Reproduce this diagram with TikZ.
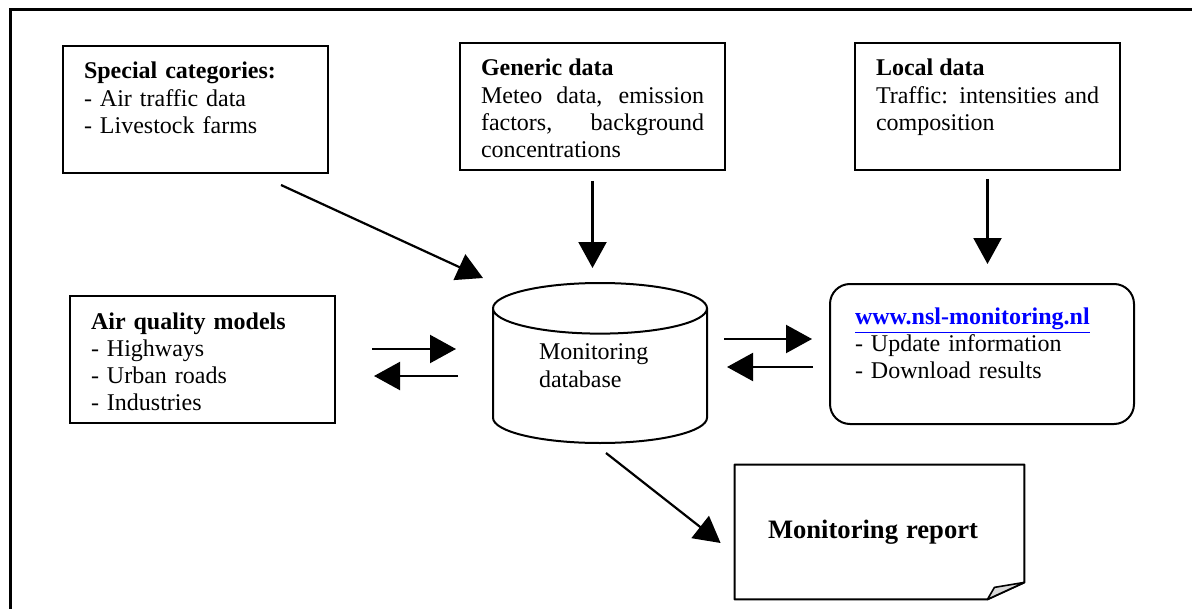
\documentclass[tikz,border=0pt]{standalone}
\usepackage{fontspec}
\setmainfont{Liberation Serif}
\usetikzlibrary{arrows.meta,calc,shapes.geometric}
\definecolor{linkblue}{RGB}{0,0,255}

\begin{document}
\begin{tikzpicture}[x=.5pt,y=-.5pt,font=\fontsize{12}{13.6}\selectfont,
  infobox/.style={draw,line width=1pt,anchor=north west,align=left,inner xsep=10.5pt,inner ysep=6pt,text width=111.5pt,text height=10.5pt,text depth=41pt},
  flow/.style={-{Triangle[length=13pt,width=14pt]},line width=1.1pt}]
\useasboundingbox (0,0) rectangle (1192,609);
\draw[line width=1.5pt] (10,640) |- (1220,10);
\node[infobox] (spec) at (62,45) {\textbf{Special categories:}\\- Air traffic data\\- Livestock farms};
\node[infobox,align=justify] (gen) at (459,42) {\textbf{Generic data}\par Meteo data, emission factors, background concentrations};
\node[infobox,align=justify] (loc) at (854,42) {\textbf{Local data}\par Traffic: intensities and composition};
\node[infobox] (air) at (69,295) {\textbf{Air quality models}\\- Highways\\- Urban roads\\- Industries};
\node[draw,line width=1pt,cylinder,shape border rotate=90,aspect=0.374,minimum width=107pt,minimum height=80pt,text width=61pt,text depth=28.6pt,align=left,anchor=shape center] (db) at (600,363) {Monitoring\\database};
\node[draw,line width=1pt,rounded corners=10pt,anchor=north west,align=left,inner xsep=12.5pt,inner ysep=8pt,text width=127pt,text height=12pt,text depth=42pt] (web) at (829,283) {\textcolor{linkblue}{\underline{\textbf{www.nsl-monitoring.nl}}}\\- Update information\\- Download results};
\node[minimum width=144.5pt,minimum height=67pt,text width=111.5pt,align=left] (rep) at (879.5,532) {\fontsize{13.3}{15}\selectfont\textbf{Monitoring report}};
% report sheet with folded corner
\draw[line width=1pt,line join=round] (rep.north west) -- (rep.north east) -- ($(rep.south east)+(0,-17)$) -- ($(rep.south east)+(-37,0)$) -- (rep.south west) -- cycle;
\filldraw[fill=gray!30,line width=.8pt,line join=round] ($(rep.south east)+(-37,0)$) -- ($(rep.south east)+(-30,-12)$) -- ($(rep.south east)+(0,-17)$) -- cycle;
% data flows
\draw[flow] ($(spec.south east)+(-48,11)$) -- ($(db.shape center)+(-117,-85)$);
\draw[flow] ($(gen.south)+(0,10)$) -- ($(gen.south |- db.shape center)+(0,-95)$);
\draw[flow] ($(loc.south)+(0,8)$) -- ($(loc.south |- web.north)+(0,-19)$);
\draw[flow] ($(air.east)+(36,-10.5)$) -- ($(air.east -| db.shape center)+(-144,-10.5)$);
\draw[flow] ($(air.east -| db.shape center)+(-142,16.5)$) -- ($(air.east)+(38,16.5)$);
\draw[flow] ($(web.west -| db.shape center)+(124,-15)$) -- ($(web.west)+(-17,-15)$);
\draw[flow] ($(web.west)+(-16,13)$) -- ($(web.west -| db.shape center)+(127,13)$);
\draw[flow] ($(db.shape center)+(6,90)$) -- ($(rep.west)+(-14,11)$);
\end{tikzpicture}
\end{document}
